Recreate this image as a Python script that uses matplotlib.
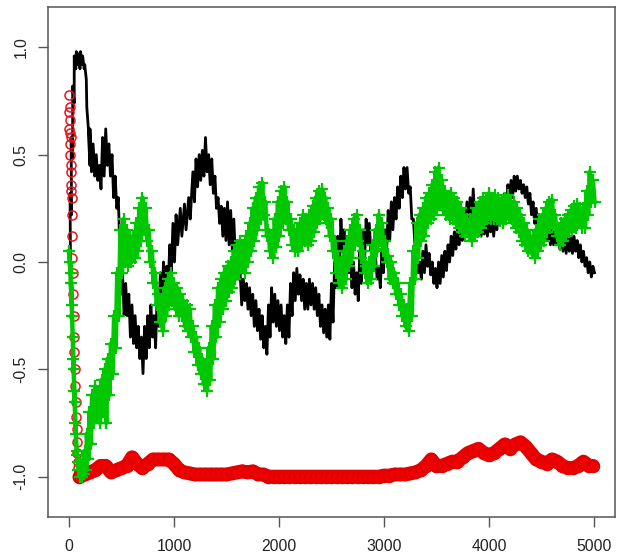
import numpy as np
import matplotlib
matplotlib.use("Agg")
import matplotlib.pyplot as plt

plt.rcParams['font.family'] = ['Liberation Sans', 'DejaVu Sans']

black_t = [0, 10, 20, 35, 50, 70, 90, 110, 130, 150,
           170, 185, 200, 230, 260, 290, 320, 350, 380, 410,
           440, 470, 490, 510, 540, 570, 600, 630, 660, 690,
           720, 750, 780, 810, 840, 870, 900, 930, 960, 990,
           1020, 1060, 1100, 1140, 1180, 1210, 1240, 1270, 1300, 1330,
           1360, 1390, 1420, 1450, 1480, 1510, 1540, 1570, 1600, 1630,
           1660, 1690, 1720, 1750, 1780, 1810, 1840, 1870, 1900, 1930,
           1960, 1990, 2020, 2050, 2080, 2110, 2140, 2170, 2200, 2230,
           2260, 2290, 2320, 2350, 2380, 2410, 2440, 2470, 2500, 2530,
           2560, 2590, 2620, 2650, 2680, 2710, 2740, 2770, 2800, 2830,
           2860, 2890, 2920, 2950, 2980, 3010, 3040, 3070, 3100, 3130,
           3160, 3190, 3220, 3250, 3280, 3310, 3340, 3370, 3400, 3430,
           3460, 3490, 3520, 3550, 3580, 3610, 3640, 3670, 3700, 3730,
           3760, 3790, 3820, 3850, 3880, 3910, 3940, 3970, 4000, 4030,
           4060, 4090, 4120, 4150, 4180, 4210, 4240, 4270, 4300, 4330,
           4360, 4390, 4420, 4450, 4480, 4510, 4540, 4570, 4600, 4630,
           4660, 4690, 4720, 4750, 4780, 4810, 4840, 4870, 4900, 4930,
           4960, 4990]
black_hi = [0.05, 0.32, 0.58, 0.82, 0.96, 0.98, 0.97, 0.98, 0.96, 0.92,
            0.72, 0.60, 0.62, 0.55, 0.50, 0.45, 0.58, 0.62, 0.55, 0.50,
            0.40, 0.30, 0.10, -0.05, -0.10, -0.15, -0.20, -0.25, -0.30, -0.35,
            -0.30, -0.25, -0.20, -0.25, -0.15, -0.05, 0.0, -0.02, 0.08, 0.18,
            0.22, 0.25, 0.27, 0.30, 0.42, 0.48, 0.50, 0.52, 0.58, 0.50,
            0.48, 0.40, 0.30, 0.26, 0.25, 0.28, 0.24, 0.20, 0.06, -0.05,
            -0.08, -0.10, -0.12, -0.15, -0.18, -0.22, -0.25, -0.30, -0.20, -0.12,
            -0.15, -0.18, -0.20, -0.25, -0.20, -0.10, -0.05, -0.03, -0.06, -0.08,
            -0.10, -0.08, -0.10, -0.12, -0.15, -0.20, -0.22, -0.20, -0.10, 0.0,
            0.12, 0.20, 0.15, 0.10, 0.05, 0.0, -0.05, 0.05, 0.15, 0.20,
            0.18, 0.10, 0.02, -0.02, 0.05, 0.15, 0.24, 0.28, 0.30, 0.35,
            0.40, 0.44, 0.44, 0.35, 0.20, 0.05, 0.0, 0.05, 0.08, 0.04,
            0.0, -0.03, 0.0, 0.03, 0.05, 0.08, 0.12, 0.14, 0.17, 0.20,
            0.24, 0.28, 0.30, 0.34, 0.25, 0.20, 0.22, 0.20, 0.22, 0.20,
            0.22, 0.25, 0.28, 0.32, 0.36, 0.38, 0.40, 0.40, 0.38, 0.36,
            0.35, 0.32, 0.28, 0.25, 0.22, 0.20, 0.18, 0.16, 0.15, 0.16,
            0.15, 0.16, 0.14, 0.15, 0.12, 0.12, 0.10, 0.08, 0.05, 0.02,
            0.0, -0.02]
black_lo = [-0.05, 0.22, 0.48, 0.74, 0.90, 0.92, 0.90, 0.92, 0.90, 0.85,
            0.62, 0.45, 0.42, 0.40, 0.38, 0.34, 0.40, 0.45, 0.40, 0.30,
            0.25, 0.05, -0.15, -0.25, -0.25, -0.35, -0.38, -0.40, -0.45, -0.52,
            -0.45, -0.40, -0.35, -0.40, -0.30, -0.20, -0.13, -0.10, -0.05, 0.0,
            0.08, 0.12, 0.15, 0.20, 0.28, 0.35, 0.38, 0.40, 0.42, 0.36,
            0.32, 0.25, 0.18, 0.12, 0.10, 0.08, 0.06, 0.02, -0.08, -0.20,
            -0.18, -0.22, -0.25, -0.30, -0.32, -0.36, -0.40, -0.43, -0.35, -0.28,
            -0.30, -0.32, -0.35, -0.38, -0.35, -0.25, -0.18, -0.15, -0.18, -0.22,
            -0.22, -0.20, -0.22, -0.25, -0.30, -0.33, -0.35, -0.36, -0.28, -0.12,
            -0.05, 0.05, 0.0, -0.05, -0.12, -0.15, -0.18, -0.10, 0.0, 0.08,
            0.05, -0.02, -0.08, -0.12, -0.05, 0.05, 0.10, 0.15, 0.20, 0.25,
            0.30, 0.34, 0.32, 0.20, 0.08, -0.05, -0.08, -0.05, -0.02, -0.06,
            -0.10, -0.12, -0.10, -0.07, -0.04, 0.0, 0.03, 0.06, 0.08, 0.10,
            0.14, 0.16, 0.18, 0.20, 0.14, 0.12, 0.13, 0.12, 0.14, 0.12,
            0.15, 0.18, 0.20, 0.24, 0.28, 0.30, 0.33, 0.34, 0.32, 0.30,
            0.27, 0.22, 0.18, 0.16, 0.14, 0.12, 0.10, 0.08, 0.08, 0.08,
            0.06, 0.05, 0.04, 0.05, 0.04, 0.05, 0.02, 0.0, -0.02, -0.05,
            -0.07, -0.05]

# green series
green_t = [0, 10, 20, 30, 40, 50, 60, 75, 90, 110,
           130, 150, 170, 195, 220, 250, 280, 310, 340, 370,
           400, 430, 460, 490, 520, 550, 580, 610, 640, 670,
           700, 730, 760, 790, 820, 850, 880, 910, 940, 970,
           1000, 1030, 1060, 1090, 1120, 1150, 1180, 1210, 1240, 1270,
           1300, 1330, 1360, 1390, 1420, 1450, 1480, 1510, 1540, 1570,
           1600, 1630, 1660, 1690, 1720, 1750, 1780, 1810, 1840, 1870,
           1900, 1930, 1960, 1990, 2020, 2050, 2080, 2110, 2140, 2170,
           2200, 2230, 2260, 2290, 2320, 2350, 2380, 2410, 2440, 2470,
           2500, 2530, 2560, 2590, 2620, 2650, 2680, 2710, 2740, 2770,
           2800, 2830, 2860, 2890, 2920, 2950, 2980, 3010, 3040, 3070,
           3100, 3130, 3160, 3190, 3220, 3250, 3280, 3310, 3340, 3370,
           3400, 3430, 3460, 3490, 3520, 3550, 3580, 3610, 3640, 3670,
           3700, 3730, 3760, 3790, 3820, 3850, 3880, 3910, 3940, 3970,
           4000, 4030, 4060, 4090, 4120, 4150, 4180, 4210, 4240, 4270,
           4300, 4330, 4360, 4390, 4420, 4450, 4480, 4510, 4540, 4570,
           4600, 4630, 4660, 4690, 4720, 4750, 4780, 4810, 4840, 4870,
           4900, 4930, 4960, 4990]
green_hi = [0.05, 0.0, -0.10, -0.25, -0.45, -0.60, -0.75, -0.88, -0.93, -0.95,
            -0.92, -0.88, -0.80, -0.70, -0.62, -0.58, -0.60, -0.55, -0.50, -0.45,
            -0.38, -0.25, -0.05, 0.15, 0.20, 0.15, 0.12, 0.12, 0.18, 0.25,
            0.30, 0.25, 0.15, 0.05, -0.05, -0.15, -0.18, -0.12, -0.08, -0.05,
            -0.10, -0.12, -0.15, -0.18, -0.20, -0.22, -0.30, -0.35, -0.40, -0.45,
            -0.48, -0.40, -0.30, -0.20, -0.12, -0.08, -0.05, -0.02, 0.0, 0.05,
            0.08, 0.10, 0.08, 0.12, 0.18, 0.25, 0.30, 0.35, 0.37, 0.28,
            0.15, 0.12, 0.20, 0.28, 0.33, 0.35, 0.28, 0.20, 0.15, 0.15,
            0.18, 0.22, 0.20, 0.22, 0.26, 0.30, 0.33, 0.34, 0.30, 0.25,
            0.20, 0.10, 0.02, 0.0, 0.05, 0.10, 0.15, 0.20, 0.22, 0.15,
            0.05, -0.02, 0.0, 0.08, 0.15, 0.22, 0.18, 0.10, 0.03, 0.0,
            -0.05, -0.10, -0.15, -0.20, -0.22, -0.10, 0.05, 0.18, 0.22, 0.25,
            0.30, 0.32, 0.36, 0.42, 0.44, 0.38, 0.33, 0.30, 0.32, 0.30,
            0.28, 0.25, 0.22, 0.20, 0.20, 0.22, 0.25, 0.28, 0.30, 0.30,
            0.32, 0.30, 0.31, 0.30, 0.29, 0.30, 0.31, 0.28, 0.28, 0.25,
            0.22, 0.18, 0.15, 0.12, 0.12, 0.15, 0.20, 0.22, 0.25, 0.28,
            0.29, 0.22, 0.15, 0.18, 0.20, 0.22, 0.24, 0.26, 0.27, 0.25,
            0.25, 0.33, 0.42, 0.38]
green_lo = [-0.05, -0.20, -0.35, -0.50, -0.65, -0.80, -0.90, -0.97, -1.0, -1.0,
            -0.99, -0.97, -0.92, -0.85, -0.75, -0.72, -0.75, -0.70, -0.75, -0.62,
            -0.52, -0.40, -0.25, -0.05, 0.0, -0.02, 0.0, 0.02, 0.05, 0.10,
            0.15, 0.10, 0.0, -0.10, -0.20, -0.28, -0.32, -0.25, -0.20, -0.18,
            -0.22, -0.25, -0.25, -0.30, -0.32, -0.35, -0.42, -0.48, -0.52, -0.57,
            -0.60, -0.55, -0.45, -0.35, -0.28, -0.22, -0.18, -0.14, -0.12, -0.08,
            -0.05, -0.02, -0.05, 0.0, 0.05, 0.10, 0.15, 0.20, 0.22, 0.12,
            0.05, 0.02, 0.07, 0.12, 0.18, 0.20, 0.15, 0.08, 0.05, 0.05,
            0.08, 0.10, 0.08, 0.10, 0.14, 0.18, 0.20, 0.22, 0.18, 0.12,
            0.05, -0.05, -0.10, -0.12, -0.08, -0.02, 0.02, 0.08, 0.10, 0.02,
            -0.05, -0.10, -0.08, -0.02, 0.05, 0.10, 0.06, 0.0, -0.08, -0.10,
            -0.15, -0.20, -0.25, -0.30, -0.32, -0.25, -0.08, 0.02, 0.10, 0.12,
            0.18, 0.20, 0.22, 0.25, 0.28, 0.24, 0.22, 0.20, 0.20, 0.18,
            0.16, 0.14, 0.12, 0.12, 0.10, 0.12, 0.14, 0.16, 0.18, 0.20,
            0.20, 0.20, 0.20, 0.19, 0.18, 0.20, 0.21, 0.18, 0.16, 0.14,
            0.10, 0.08, 0.05, 0.04, 0.02, 0.05, 0.08, 0.10, 0.14, 0.16,
            0.18, 0.12, 0.08, 0.10, 0.12, 0.14, 0.15, 0.16, 0.18, 0.16,
            0.16, 0.22, 0.28, 0.28]

# red series: fast drop at the start, then the band near -1
red_start_t = [0, 2, 4, 6, 8, 10, 12, 14, 16, 18,
               20, 22, 24, 26, 28, 30, 33, 36, 40, 44,
               48, 52, 56, 60, 64, 68, 72, 76, 80, 85,
               90, 95, 100, 105]
red_start_y = [0.70, 0.78, 0.62, 0.72, 0.55, 0.66, 0.60, 0.50, 0.58, 0.45,
               0.42, 0.33, 0.36, 0.30, 0.22, 0.12, 0.02, -0.05, -0.15, -0.25,
               -0.35, -0.42, -0.50, -0.58, -0.65, -0.72, -0.78, -0.84, -0.89, -0.93,
               -0.96, -0.98, -0.99, -1.0]
red_t = list(range(100, 5000, 50)) + [4990]
red_y = [-1.0, -0.99, -0.98, -0.97, -0.95, -0.95, -0.98, -0.97, -0.96, -0.95,
         -0.91, -0.94, -0.96, -0.94, -0.92, -0.92, -0.92, -0.92, -0.94, -0.97,
         -0.98, -0.985, -0.99, -0.99, -0.99, -0.99, -0.99, -0.99, -0.99, -0.985,
         -0.98, -0.975, -0.98, -0.975, -0.99, -0.99, -1.0, -1.0, -1.0, -1.0,
         -1.0, -1.0, -1.0, -1.0, -1.0, -1.0, -1.0, -1.0, -1.0, -1.0,
         -1.0, -1.0, -1.0, -1.0, -1.0, -1.0, -1.0, -1.0, -0.995, -0.995,
         -0.99, -0.99, -0.99, -0.985, -0.98, -0.97, -0.95, -0.92, -0.95, -0.95,
         -0.94, -0.93, -0.93, -0.91, -0.89, -0.88, -0.87, -0.89, -0.90, -0.89,
         -0.87, -0.85, -0.87, -0.85, -0.84, -0.86, -0.89, -0.92, -0.93, -0.94,
         -0.92, -0.93, -0.95, -0.96, -0.96, -0.95, -0.93, -0.95, -0.95]

xticks = [0, 1000, 2000, 3000, 4000, 5000]
yticks = [-1.0, -0.5, 0.0, 0.5, 1.0]


def zigzag(t, hi, lo):
    # alternate top and bottom edge of the band so it looks like a noisy trace
    t = np.asarray(t, float)
    x = np.ravel(np.column_stack([t, t + 15]))
    y = np.ravel(np.column_stack([hi, lo]))
    return x, y


fig = plt.figure(figsize=(6.19, 5.54), dpi=100)
ax = fig.add_axes([0.0775, 0.0668, 0.916, 0.9206])

bx, by = zigzag(black_t, black_hi, black_lo)
ax.plot(bx, by, color='black', lw=2.0, zorder=2)

ax.plot(red_start_t, red_start_y, ls='none', marker='o', ms=6.5, mfc='none',
        mec='#e8141c', mew=1.1, zorder=3)
ax.plot(red_t, red_y, color='#f00000', lw=10, solid_capstyle='round',
        solid_joinstyle='round', zorder=3)
ax.plot(red_t, red_y, ls='none', marker='o', ms=8.5, mfc='#f00000',
        mec='#e00000', mew=1.2, zorder=3)

gx, gy = zigzag(green_t, green_hi, green_lo)
ax.plot(gx, gy, color='#00c800', lw=3.2, solid_joinstyle='round', zorder=4)
ax.plot(gx, gy, ls='none', marker='+', ms=9, mec='#00c800', mew=1.6, zorder=4)

ax.set_xlim(-200, 5200)
ax.set_ylim(-1.188, 1.188)
ax.set_xticks(xticks)
ax.set_yticks(yticks)
ax.set_xticklabels([str(v) for v in xticks])
ax.set_yticklabels(['%.1f' % v for v in yticks])
for s in ax.spines.values():
    s.set_color('#555555')
    s.set_linewidth(1.1)
ax.tick_params(direction='out', length=7.5, width=1.0, color='#555555',
               labelsize=11.3, labelcolor='#222222')
ax.tick_params(axis='x', pad=8.5)
ax.tick_params(axis='y', pad=6.5)
plt.setp(ax.get_yticklabels(), rotation=90, va='center')

fig.savefig('out.png', dpi=100)
